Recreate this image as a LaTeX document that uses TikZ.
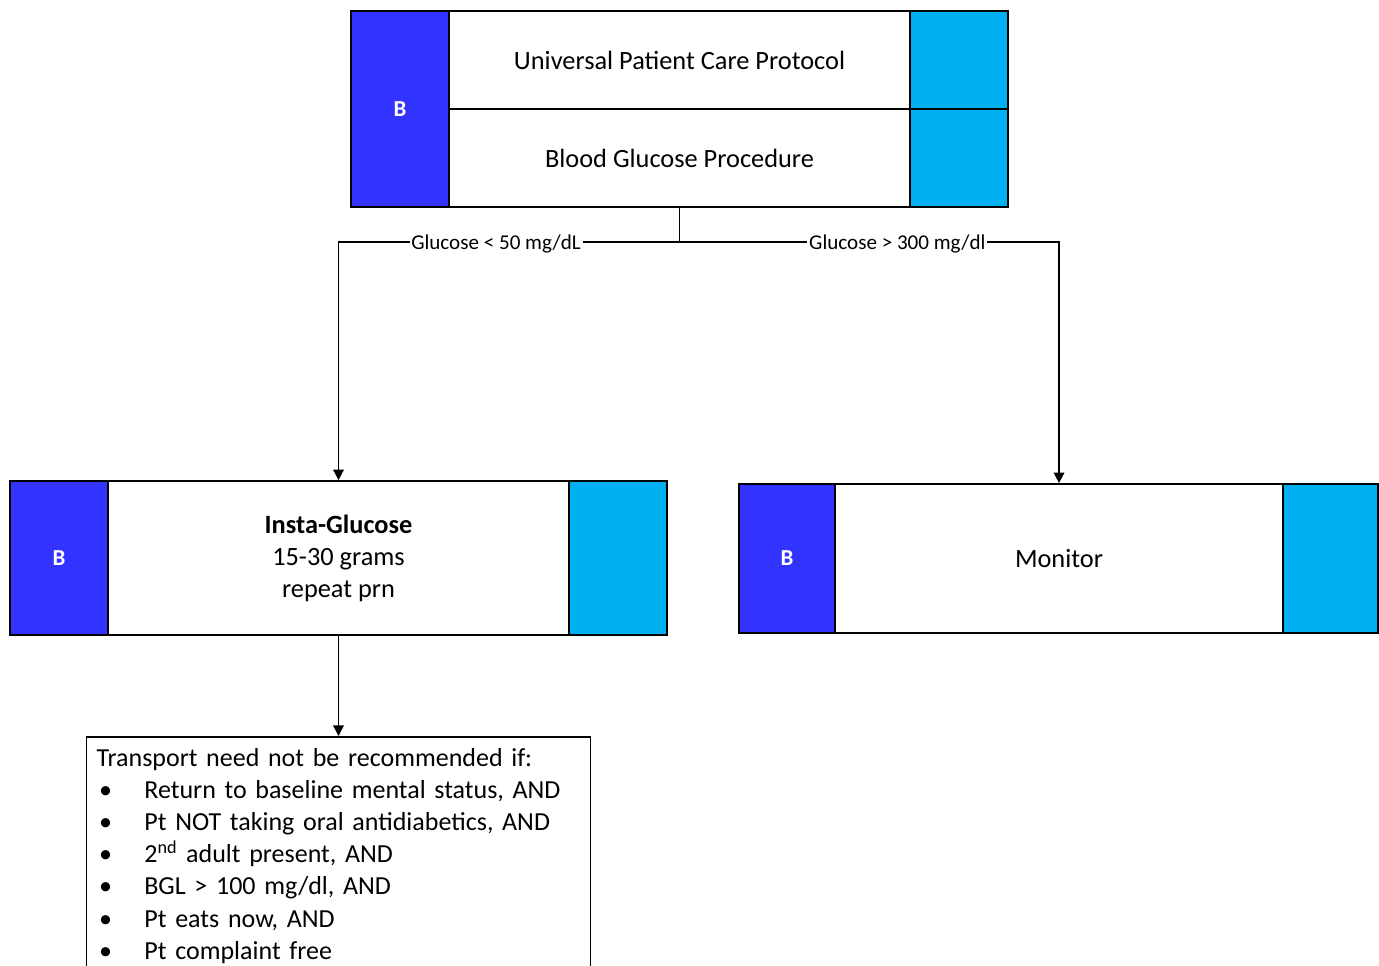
\documentclass[tikz,border=0pt]{standalone}
\usepackage{fontspec}
\setmainfont{Carlito}
\usetikzlibrary{arrows.meta}
\definecolor{bblue}{HTML}{3333FF}
\definecolor{bcyan}{HTML}{00B0F0}
\tikzset{
  bbox/.style={draw=black,line width=1pt,fill=bblue,text=white,font=\bfseries\fontsize{13}{15}\selectfont,minimum width=1.96cm,inner sep=0pt},
  cbox/.style={draw=black,line width=1pt,fill=bcyan,minimum width=1.96cm,inner sep=0pt},
  wbox/.style={draw=black,line width=1pt,fill=white,align=center,font=\fontsize{15}{18.2}\selectfont,minimum width=9.22cm,inner sep=0pt},
  arr/.style={line width=0.9pt,-{Triangle[width=6pt,length=6pt]}},
  lbl/.style={fill=white,inner sep=1pt,font=\fontsize{12}{14}\selectfont}
}
\newcommand{\bul}{\makebox[27.2pt][l]{\hspace{1.5pt}\textbullet}}
\begin{document}
\begin{tikzpicture}[x=0.02cm,y=-0.02cm]
  \useasboundingbox (0,0) rectangle (1379,965);
  \clip (0,0) rectangle (1379,965);

  \node[bbox,minimum height=3.92cm] (TB) at (400, 109) {B};
  \node[wbox,minimum height=1.96cm] (T1) at (679.5, 60) {Universal Patient Care Protocol};
  \node[wbox,minimum height=1.96cm] (T2) at (679.5, 158) {Blood Glucose Procedure};
  \node[cbox,minimum height=1.96cm] (TC1) at (959, 60) {};
  \node[cbox,minimum height=1.96cm] (TC2) at (959, 158) {};

  \node[bbox,minimum height=3.08cm] (GB) at (59, 558) {B};
  \node[wbox,minimum height=3.08cm] (G2) at (338.5, 558) {\textbf{Insta-Glucose}\\15-30 grams\\repeat prn};
  \node[cbox,minimum height=3.08cm] (GC) at (618, 558) {};

  \node[bbox,minimum height=2.98cm,minimum width=1.92cm] (MB) at (787, 558.5) {B};
  \node[wbox,minimum height=2.98cm,minimum width=8.96cm] (M2) at (1059, 558.5) {Monitor};
  \node[cbox,minimum height=2.98cm,minimum width=1.9cm] (MC) at (1330.5, 558.5) {};

  \node[draw=black,line width=0.9pt,anchor=north,text width=9.68cm,inner xsep=0.2cm,inner ysep=6.5pt,
        align=left,font=\fontsize{14.8}{18.3}\selectfont] (X) at (338.5, 736)
    {Transport need not be recommended if:\\
     \bul Return to baseline mental status, AND\\
     \bul Pt NOT taking oral antidiabetics, AND\\
     \bul 2\textsuperscript{nd} adult present, AND\\
     \bul BGL > 100 mg/dl, AND\\
     \bul Pt eats now, AND\\
     \bul Pt complaint free\\[8pt]};

  \coordinate (J) at (679.5, 242);
  \draw[line width=0.9pt] (T2.south) -- (J);
  \draw[arr] (J) -- node[lbl,pos=0.538,yshift=-1pt] {Glucose < 50 mg/dL} (J -| G2.north) -- (G2.north);
  \draw[arr] (J) -- node[lbl,pos=0.574,yshift=-1pt] {Glucose > 300 mg/dl} (J -| M2.north) -- (M2.north);
  \draw[arr] (G2.south) -- (X.north);
\end{tikzpicture}
\end{document}
